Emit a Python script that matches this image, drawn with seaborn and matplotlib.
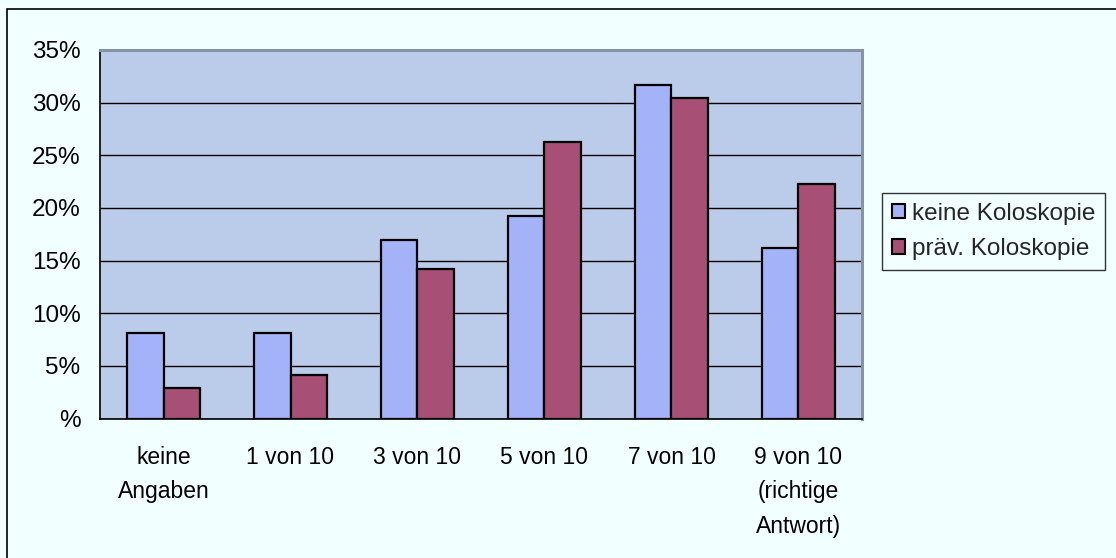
import matplotlib
matplotlib.use("Agg")
import matplotlib.pyplot as plt
from matplotlib.patches import Rectangle
from matplotlib.ticker import FuncFormatter, MultipleLocator
import seaborn as sns
import pandas as pd

# Antwortkategorien und Anteile (in Prozent) je Gruppe
categories = ["keine\nAngaben", "1 von 10", "3 von 10", "5 von 10", "7 von 10",
              "9 von 10\n(richtige\nAntwort)"]
groups = ["keine Koloskopie", "präv. Koloskopie"]
keine_koloskopie = [8.1, 8.1, 17.0, 19.2, 31.7, 16.2]
praev_koloskopie = [2.9, 4.1, 14.2, 26.3, 30.4, 22.3]
y_ticks = [0, 5, 10, 15, 20, 25, 30, 35]

df = pd.DataFrame({
    "Kategorie": categories * 2,
    "Gruppe": [groups[0]] * len(categories) + [groups[1]] * len(categories),
    "Anteil": keine_koloskopie + praev_koloskopie,
})

sns.set_theme(style="white")
plt.rcParams["font.family"] = ["Liberation Sans", "DejaVu Sans"]

page_bg = "#F2FFFF"
plot_bg = "#BBCCEA"
colors = ["#A4B3F8", "#A84F75"]

fig = plt.figure(figsize=(11.16, 5.58), dpi=100, facecolor=page_bg)
W, H = 1116, 558
ax = fig.add_axes([100 / W, 1 - 418.5 / H, 762 / W, 368.5 / H])
ax.set_facecolor(plot_bg)

sns.barplot(data=df, x="Kategorie", y="Anteil", hue="Gruppe", hue_order=groups,
            palette=colors, width=0.57, edgecolor="black", linewidth=1.6,
            saturation=1, ax=ax, zorder=3)

ax.set_xlim(-0.5, len(categories) - 0.5)
ax.set_ylim(0, 35)
ax.set_yticks(y_ticks)
ax.yaxis.set_major_formatter(FuncFormatter(lambda v, p: "%" if v == 0 else f"{int(v)}%"))
ax.grid(axis="y", color="black", linewidth=1.0, zorder=1)
ax.set_axisbelow(True)
ax.set_xlabel("")
ax.set_ylabel("")

# Kategoriegrenzen als Striche unter der Achse, Beschriftung mittig ohne Strich
ax.set_xticks(range(len(categories)))
ax.set_xticklabels(categories, fontsize=16.5, linespacing=1.62, va="top")
ax.tick_params(axis="x", which="major", length=0, pad=20, colors="black")
ax.xaxis.set_minor_locator(MultipleLocator(1.0, offset=0.5))
ax.tick_params(axis="x", which="minor", length=8, width=1, color="black", direction="out")
ax.tick_params(axis="y", length=7, width=1, color="black", direction="out", pad=7,
               labelsize=17.5)
for lbl in ax.get_yticklabels():
    lbl.set_color("black")

for side in ["left", "bottom"]:
    ax.spines[side].set_color("black")
    ax.spines[side].set_linewidth(1.2)
for side in ["top", "right"]:
    ax.spines[side].set_color("#8592A8")
    ax.spines[side].set_linewidth(2.2)

leg = ax.legend(loc="upper left", bbox_to_anchor=(882 / W, 1 - 193 / H),
                bbox_transform=fig.transFigure, frameon=True, fancybox=False,
                fontsize=17.5, handlelength=0.55, handleheight=0.55, handletextpad=0.3,
                borderpad=0.4, labelspacing=0.55, borderaxespad=0)
leg.get_frame().set_edgecolor("#333333")
leg.get_frame().set_linewidth(1.0)
leg.get_frame().set_facecolor(page_bg)
leg.get_frame().set_alpha(1)
for h in leg.legend_handles:
    h.set_edgecolor("black")
    h.set_linewidth(1.5)

# Rahmen um die gesamte Grafik
fig.patches.append(Rectangle((7 / W, -0.05), 1.2, 1 - 9 / H + 0.05,
                             transform=fig.transFigure, fill=False,
                             edgecolor="black", linewidth=1.2))

fig.savefig("out.png", dpi=100, facecolor=page_bg)
